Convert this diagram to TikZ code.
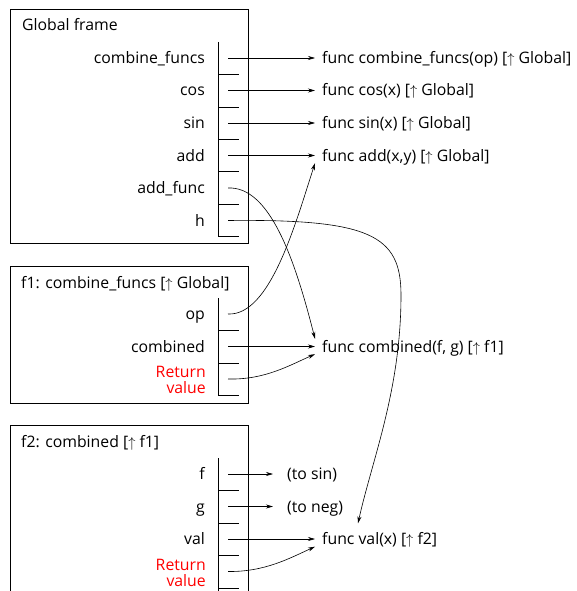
\documentclass[tikz,border=0pt]{standalone}
\usepackage{fontspec}
\setmainfont{Open Sans}
\usetikzlibrary{arrows.meta,calc}

\begin{document}
\begin{tikzpicture}[x=1pt,y=-1pt,font=\fontsize{15.8}{16}\selectfont,
    frame/.style={draw,line width=0.8pt},
    title/.style={anchor=base west,inner sep=0pt},
    var/.style={anchor=base east,inner sep=0pt},
    ret/.style={anchor=east,inner sep=0pt,text=red,align=right},
    fn/.style={anchor=west,inner xsep=7pt,inner ysep=0pt,text height=13pt,text depth=2pt},
    ptr/.style={line width=0.6pt,-{Stealth[length=7pt,width=4pt]}}]
\clip (0,0) rectangle (577,591);

% Frames
\draw[frame] (10,9) rectangle (248,243);
\draw[frame] (10,266) rectangle (248,403);
\draw[frame] (10,425) rectangle (248,620);
\node[title] (gtitle) at (22,31) {Global frame};
\node[title] (ftitle1) at (21,288) {f1: combine\_funcs [$\uparrow$ Global]};
\node[title] (ftitle2) at (21,447) {f2: combined [$\uparrow$ f1]};

% Slots
\draw (218,42) -- (218,236);
\foreach \y in {74,107,139,171,204,236} \draw (218,\y) -- (239,\y);
\draw (218,298) -- (218,395);
\foreach \y in {330,363,395} \draw (218,\y) -- (239,\y);
\draw (218,458) -- (218,600);
\foreach \y in {490,523,555,588} \draw (218,\y) -- (239,\y);

% Variables
\foreach \n/\t/\y in {gcomb/combine\_funcs/58,gcos/cos/90.5,gsin/sin/123,
    gadd/add/155.5,gaddf/add\_func/188,gh/h/220.5,
    op/op/314,comb/combined/346.5,f/f/474,g/g/506.5,val/val/539} {
  \node[var] (\n) at (205,\y+5.5) {\t};
  \coordinate (p-\n) at (228,\y);
}
\node[ret] (ret1) at (206,380) {Return\\value};
\coordinate (p-ret1) at (228,379);
\node[ret] (ret2) at (206,572.5) {Return\\value};
\coordinate (p-ret2) at (228,571.5);

% Values
\node[fn] (fcomb) at (315,58) {func combine\_funcs(op) [$\uparrow$ Global]};
\node[fn] (fcos) at (315,90.5) {func cos(x) [$\uparrow$ Global]};
\node[fn] (fsin) at (315,123) {func sin(x) [$\uparrow$ Global]};
\node[fn] (fadd) at (315,155.5) {func add(x,y) [$\uparrow$ Global]};
\node[fn] (fcombd) at (315,346.5) {func combined(f, g) [$\uparrow$ f1]};
\node[fn] (fval) at (315,539) {func val(x) [$\uparrow$ f2]};
\node[fn,inner xsep=14pt] (tosin) at (273,474) {(to sin)};
\node[fn,inner xsep=14pt] (toneg) at (273,506.5) {(to neg)};

% Pointers
\draw[ptr] (p-gcomb) -- (fcomb.west);
\draw[ptr] (p-gcos) -- (fcos.west);
\draw[ptr] (p-gsin) -- (fsin.west);
\draw[ptr] (p-gadd) -- (fadd.west);
\draw[ptr] (p-gaddf) .. controls (270,186) and (295,260) .. (fcombd.north west);
\draw[ptr] (p-gh) .. controls (370,219) and (401,235) .. (401,295)
  .. controls (401,390) and (372,460) .. ($(fval.north west)+(43,-8)$);
\draw[ptr] (p-op) .. controls (270,316) and (295,225) .. (fadd.south west);
\draw[ptr] (p-comb) -- (fcombd.west);
\draw[ptr] (p-ret1) .. controls (265,380) and (290,365) .. (fcombd.south west);
\draw[ptr] (p-f) -- (tosin.west);
\draw[ptr] (p-g) -- (toneg.west);
\draw[ptr] (p-val) -- (fval.west);
\draw[ptr] (p-ret2) .. controls (265,572) and (290,558) .. (fval.south west);
\end{tikzpicture}
\end{document}
